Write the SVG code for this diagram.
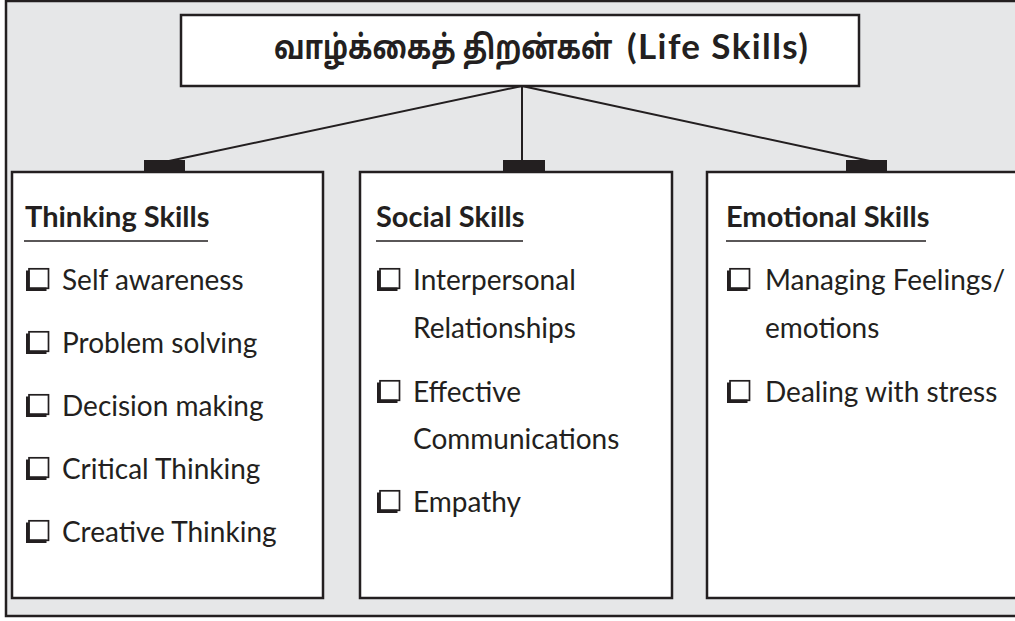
<svg xmlns="http://www.w3.org/2000/svg" xmlns:xlink="http://www.w3.org/1999/xlink" width="1015" height="621" viewBox="0 0 1015 621">
<style>
.frame{fill:#e6e7e8;stroke:#231f20;stroke-width:2.5}
.box{fill:#ffffff;stroke:#231f20;stroke-width:2.5}
.tab{fill:#231f20}
.conn{stroke:#231f20;stroke-width:2;fill:none}
.tamil{font-family:"Noto Sans Tamil","Lohit Tamil",Lato,"Noto Sans",sans-serif;font-weight:bold;font-size:33px;fill:#231f20}
.title{font-family:Lato,"Open Sans",sans-serif;font-weight:bold;font-size:35px;letter-spacing:1.4px;fill:#231f20}
.hdr{font-family:Lato,"Open Sans",sans-serif;font-weight:bold;font-size:29px;fill:#231f20}
.item{font-family:Lato,"Open Sans",sans-serif;font-size:28px;fill:#231f20}
.ul{stroke:#231f20;stroke-width:1.3}
</style>
<defs>
<g id="cb">
<rect x="3" y="0.8" width="19.5" height="19.5" fill="#fff" stroke="#231f20" stroke-width="1.7"/>
<path d="M1.75,2.5 V21.25 H20.5" fill="none" stroke="#231f20" stroke-width="3.5"/>
</g>
</defs>
<rect width="1015" height="621" fill="#ffffff"/>
<rect class="frame" x="6" y="1" width="1030" height="615"/>

<g id="connectors">
<path class="conn" d="M522,86 L169,161"/>
<path class="conn" d="M522,86 V161"/>
<path class="conn" d="M522,86 L870,161"/>
<rect class="tab" x="144" y="160" width="41" height="12"/>
<rect class="tab" x="503" y="160" width="42" height="12"/>
<rect class="tab" x="846" y="160" width="41" height="12"/>
</g>

<g id="title">
<rect class="box" x="181" y="15" width="678" height="71"/>
<text class="tamil" transform="translate(274,59) scale(0.81,1)" x="0" y="0">வாழ்க்கைத் திறன்கள்</text>
<text class="title" x="627" y="59">(Life Skills)</text>
</g>

<g id="thinking">
<rect class="box" x="12" y="172" width="311" height="426"/>
<text class="hdr" x="25" y="227">Thinking Skills</text>
<line class="ul" x1="24" y1="241" x2="208" y2="241"/>
<use xlink:href="#cb" x="26" y="268"/>
<text class="item" x="62" y="290">Self awareness</text>
<use xlink:href="#cb" x="26" y="331"/>
<text class="item" x="62" y="353">Problem solving</text>
<use xlink:href="#cb" x="26" y="394"/>
<text class="item" x="62" y="416">Decision making</text>
<use xlink:href="#cb" x="26" y="457"/>
<text class="item" x="62" y="479">Critical Thinking</text>
<use xlink:href="#cb" x="26" y="520"/>
<text class="item" x="62" y="542">Creative Thinking</text>
</g>

<g id="social">
<rect class="box" x="360" y="172" width="312" height="426"/>
<text class="hdr" x="376" y="227">Social Skills</text>
<line class="ul" x1="376" y1="241" x2="523" y2="241"/>
<use xlink:href="#cb" x="377" y="268"/>
<text class="item" x="413" y="290">Interpersonal</text>
<text class="item" x="413" y="338">Relationships</text>
<use xlink:href="#cb" x="377" y="380"/>
<text class="item" x="413" y="402">Effective</text>
<text class="item" x="413" y="449">Communications</text>
<use xlink:href="#cb" x="377" y="490"/>
<text class="item" x="413" y="512">Empathy</text>
</g>

<g id="emotional">
<rect class="box" x="707" y="172" width="330" height="426"/>
<text class="hdr" x="726" y="227">Emotional Skills</text>
<line class="ul" x1="726" y1="241" x2="926" y2="241"/>
<use xlink:href="#cb" x="727" y="268"/>
<text class="item" x="765" y="290">Managing Feelings/</text>
<text class="item" x="765" y="338">emotions</text>
<use xlink:href="#cb" x="727" y="380"/>
<text class="item" x="765" y="402">Dealing with stress</text>
</g>
</svg>
